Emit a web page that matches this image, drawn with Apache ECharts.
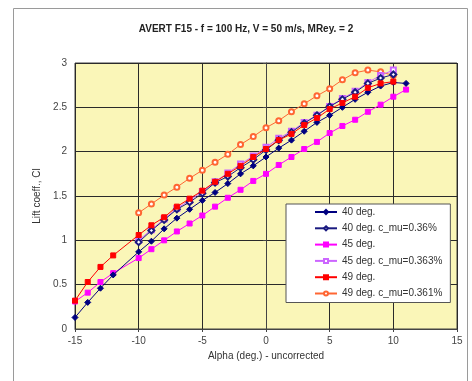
<!DOCTYPE html>
<html>
<head>
<meta charset="utf-8">
<script src="https://cdn.jsdelivr.net/npm/echarts@6/dist/echarts.min.js"></script>
<style>
  html, body { margin: 0; padding: 0; background: #ffffff; }
  #chart { width: 472px; height: 381px; }
</style>
</head>
<body>
<div id="chart"></div>
<script>
// Angle of attack (deg.) for runs that start at -15 and for blowing runs that start at -10
const alphaFull = [-15, -14, -13, -12, -10, -9, -8, -7, -6, -5, -4, -3, -2, -1, 0, 1, 2, 3, 4, 5, 6, 7, 8, 9, 10, 11];
const alphaRed = [-15, -14, -13, -12, -10, -9, -8, -7, -6, -5, -4, -3, -2, -1, 0, 1, 2, 3, 4, 5, 6, 7, 8, 9, 10];
const alphaBlow = [-10, -9, -8, -7, -6, -5, -4, -3, -2, -1, 0, 1, 2, 3, 4, 5, 6, 7, 8, 9, 10];

// Lift coefficient Cl for each run
const cl40 = [0.13, 0.30, 0.46, 0.61, 0.87, 0.99, 1.13, 1.25, 1.35, 1.45, 1.54, 1.64, 1.75, 1.84, 1.94, 2.04, 2.13, 2.23, 2.33, 2.41, 2.50, 2.59, 2.67, 2.74, 2.78, 2.77];
const cl40mu = [0.98, 1.11, 1.23, 1.35, 1.43, 1.53, 1.65, 1.72, 1.82, 1.91, 2.02, 2.13, 2.22, 2.32, 2.41, 2.51, 2.59, 2.67, 2.77, 2.83, 2.87];
const cl45 = [0.31, 0.41, 0.53, 0.63, 0.80, 0.90, 1.00, 1.10, 1.19, 1.28, 1.38, 1.48, 1.57, 1.67, 1.75, 1.85, 1.94, 2.03, 2.11, 2.21, 2.29, 2.36, 2.45, 2.53, 2.62, 2.70];
const cl45mu = [1.00, 1.12, 1.24, 1.36, 1.45, 1.55, 1.66, 1.76, 1.86, 1.95, 2.05, 2.15, 2.23, 2.33, 2.41, 2.51, 2.60, 2.68, 2.78, 2.86, 2.92];
const cl49 = [0.32, 0.53, 0.70, 0.83, 1.06, 1.17, 1.26, 1.38, 1.47, 1.56, 1.66, 1.75, 1.84, 1.94, 2.03, 2.13, 2.20, 2.30, 2.38, 2.48, 2.55, 2.62, 2.72, 2.77, 2.79];
const cl49mu = [1.31, 1.41, 1.51, 1.60, 1.70, 1.79, 1.88, 1.97, 2.08, 2.17, 2.27, 2.35, 2.45, 2.54, 2.63, 2.71, 2.81, 2.89, 2.92, 2.90, 2.86];

const seriesNames = ['40 deg.', '40 deg. c_mu=0.36%', '45 deg.', '45 deg. c_mu=0.363%', '49 deg.', '49 deg. c_mu=0.361%'];

function pairs(xs, ys) { return xs.map((x, i) => [x, ys[i]]); }

function makeSeries(name, xs, ys, color, symbol, size, z) {
  return {
    name: name,
    type: 'line',
    data: pairs(xs, ys),
    symbol: symbol,
    symbolSize: size,
    showAllSymbol: true,
    z: z,
    lineStyle: { color: color, width: 1 },
    itemStyle: { color: color, borderColor: color, borderWidth: 1 },
    emphasis: { disabled: true },
    animation: false
  };
}

const chart = echarts.init(document.getElementById('chart'));
const font = 'Liberation Sans, Arial, sans-serif';

chart.setOption({
  backgroundColor: '#ffffff',
  animation: false,
  title: {
    text: 'AVERT F15 - f = 100 Hz, V = 50 m/s, MRey. = 2',
    left: 241, top: 19, textAlign: 'center',
    textStyle: { fontFamily: font, fontSize: 10, fontWeight: 'bold', color: '#222' }
  },
  graphic: [{
    type: 'rect',
    shape: { x: 13.5, y: 8.5, width: 454, height: 380 },
    style: { fill: 'none', stroke: '#9a9a9a', lineWidth: 1 },
    z: -1
  }],
  grid: { left: 75, top: 63, width: 382, height: 266, backgroundColor: '#FAF6B8', show: true, borderColor: '#444', borderWidth: 1 },
  xAxis: {
    type: 'value', min: -15, max: 15, interval: 5,
    name: 'Alpha (deg.) - uncorrected', nameLocation: 'middle', nameGap: 22,
    nameTextStyle: { fontFamily: font, fontSize: 10, color: '#333' },
    axisLine: { show: true, onZero: false, lineStyle: { color: '#444', width: 1 } },
    axisTick: { show: true, length: 3, lineStyle: { color: '#444' } },
    axisLabel: { fontFamily: font, fontSize: 10, color: '#444', margin: 7 },
    splitLine: { show: true, lineStyle: { color: '#2a2a2a', width: 1 } }
  },
  yAxis: {
    type: 'value', min: 0, max: 3, interval: 0.5,
    name: 'Lift coeff., Cl', nameLocation: 'middle', nameGap: 33, nameRotate: 90,
    nameTextStyle: { fontFamily: font, fontSize: 10, color: '#333' },
    axisLine: { show: true, lineStyle: { color: '#444', width: 1 } },
    axisTick: { show: true, length: 3, lineStyle: { color: '#444' } },
    axisLabel: { fontFamily: font, fontSize: 10, color: '#444', margin: 8 },
    splitLine: { show: true, lineStyle: { color: '#2a2a2a', width: 1 } }
  },
  legend: {
    data: seriesNames,
    orient: 'vertical',
    left: 286, top: 204,
    padding: [2, 8, 3, 28],
    itemGap: 4.3,
    itemWidth: 22, itemHeight: 5,
    backgroundColor: '#ffffff',
    borderColor: '#555', borderWidth: 1,
    textStyle: { fontFamily: font, fontSize: 10, color: '#333', width: 98, lineHeight: 12 }
  },
  series: [
    makeSeries(seriesNames[0], alphaFull, cl40, '#000080', 'diamond', 6, 6),
    makeSeries(seriesNames[1], alphaBlow, cl40mu, '#1a1a80', 'emptyDiamond', 6, 5),
    makeSeries(seriesNames[2], alphaFull, cl45, '#FF00FF', 'rect', 5, 3),
    makeSeries(seriesNames[3], alphaBlow, cl45mu, '#CC66FF', 'emptyRect', 5, 4),
    makeSeries(seriesNames[4], alphaRed, cl49, '#FF0000', 'rect', 5, 7),
    makeSeries(seriesNames[5], alphaBlow, cl49mu, '#FF6633', 'emptyCircle', 5, 2)
  ]
});
</script>
</body>
</html>
